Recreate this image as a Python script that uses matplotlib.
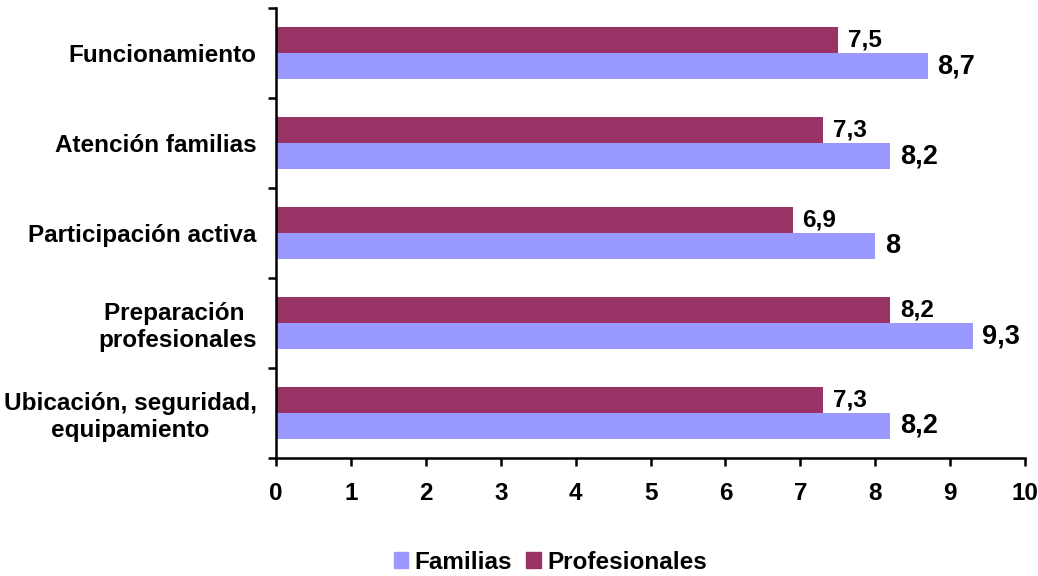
import matplotlib.pyplot as plt
from matplotlib.patches import Patch

plt.rcParams["font.family"] = ["Liberation Sans", "DejaVu Sans"]
plt.rcParams["font.weight"] = "bold"

categories = [
    "Funcionamiento",
    "Atención familias",
    "Participación activa",
    "Preparación \nprofesionales",
    "Ubicación, seguridad,\nequipamiento",
]
profesionales = [7.5, 7.3, 6.9, 8.2, 7.3]
familias = [8.7, 8.2, 8.0, 9.3, 8.2]

COLOR_FAM = "#9999FF"
COLOR_PROF = "#993366"


def fmt(v):
    # decimal comma, drop trailing ",0"
    s = f"{v:g}"
    return s.replace(".", ",")


fig = plt.figure(figsize=(10.38, 5.76), dpi=100)
ax = fig.add_axes([0.266, 0.205, 0.7215, 0.781])

pos = list(range(len(categories)))
h = 0.29
prof_y = [p - h / 2 for p in pos]
fam_y = [p + h / 2 for p in pos]

ax.barh(prof_y, profesionales, height=h, color=COLOR_PROF)
ax.barh(fam_y, familias, height=h, color=COLOR_FAM)

for y, v in zip(prof_y, profesionales):
    ax.annotate(fmt(v), (v, y), xytext=(7, 0), textcoords="offset points",
                ha="left", va="center", fontsize=17.5, fontweight="bold")
for y, v in zip(fam_y, familias):
    ax.annotate(fmt(v), (v, y), xytext=(7, 0), textcoords="offset points",
                ha="left", va="center", fontsize=19.5, fontweight="bold")

ax.set_xlim(0, 10)
ax.set_ylim(len(categories) - 0.5, -0.5)
ax.set_xticks(range(0, 11))
ax.set_yticks(pos)
ax.set_yticklabels(categories, ha="right", multialignment="center")
ax.set_yticks([p - 0.5 for p in pos] + [len(categories) - 0.5], minor=True)

for lab in ax.get_yticklabels():
    lab.set_fontsize(17.5)
    lab.set_fontweight("bold")
for lab in ax.get_xticklabels():
    lab.set_fontsize(17.5)
    lab.set_fontweight("bold")

ax.tick_params(axis="y", which="major", length=0, pad=14)
ax.tick_params(axis="y", which="minor", length=6, width=1.8, direction="out")
ax.tick_params(axis="x", length=6, width=1.8, direction="out", pad=11)

for side in ["top", "right"]:
    ax.spines[side].set_visible(False)
for side in ["left", "bottom"]:
    ax.spines[side].set_linewidth(1.8)

handles = [Patch(color=COLOR_FAM, label="Familias"),
           Patch(color=COLOR_PROF, label="Profesionales")]
fig.legend(handles=handles, loc="center", bbox_to_anchor=(0.53, 0.024), ncol=2,
           frameon=False, handlelength=0.6, handleheight=0.6,
           handletextpad=0.25, columnspacing=0.6,
           prop={"size": 17.5, "weight": "bold"})

fig.savefig("out.png", dpi=100)
